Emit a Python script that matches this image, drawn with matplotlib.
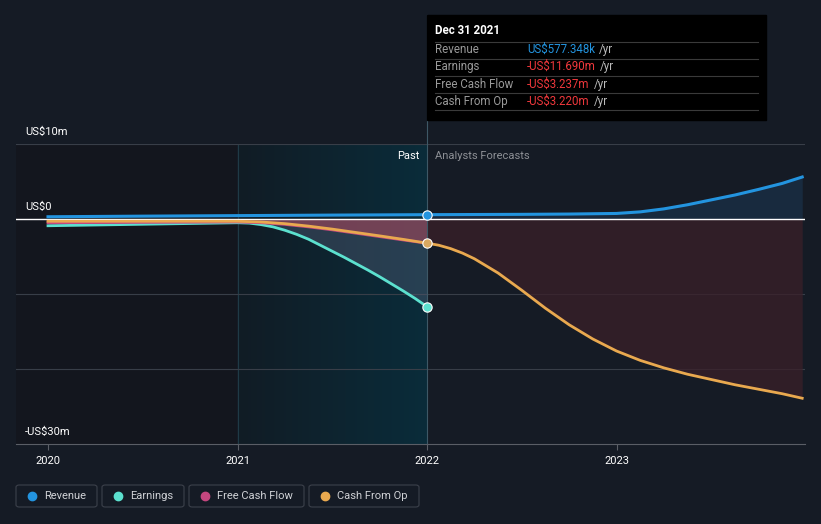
import numpy as np
import matplotlib.pyplot as plt
from matplotlib.patches import FancyBboxPatch, Rectangle
from matplotlib.colors import LinearSegmentedColormap

plt.rcParams['font.family'] = ['Roboto', 'DejaVu Sans']

# values in US$ millions, x in fractional years
rev_past_x = [2020.0, 2020.5, 2021.0, 2021.5, 2022.0]
rev_past_y = [0.30, 0.38, 0.45, 0.52, 0.577]
earn_past_x = [2020.0, 2020.25, 2020.5, 2020.75, 2021.0, 2021.0625, 2021.125, 2021.1875, 2021.25,
               2021.3125, 2021.375, 2021.4375, 2021.5, 2021.5625, 2021.625, 2021.6875, 2021.75,
               2021.8125, 2021.875, 2021.9375, 2022.0]
earn_past_y = [-0.9, -0.8, -0.7, -0.6, -0.5, -0.55, -0.75, -1.05, -1.5, -2.05, -2.7, -3.5, -4.3,
               -5.1, -5.95, -6.8, -7.7, -8.65, -9.6, -10.6, -11.69]
fcf_past_x = [2020.0, 2020.5, 2021.0, 2021.125, 2021.25, 2021.375, 2021.5, 2021.625, 2021.75,
              2021.875, 2022.0]
fcf_past_y = [-0.5, -0.45, -0.4, -0.5, -0.72, -1.05, -1.45, -1.9, -2.35, -2.8, -3.237]
cfo_past_x = [2020.0, 2020.5, 2021.0, 2021.125, 2021.25, 2021.375, 2021.5, 2021.625, 2021.75,
              2021.875, 2022.0]
cfo_past_y = [-0.3, -0.3, -0.3, -0.4, -0.62, -0.95, -1.35, -1.8, -2.25, -2.72, -3.22]

rev_fc_x = [2022.0, 2022.5, 2022.75, 2023.0, 2023.125, 2023.25, 2023.375, 2023.5, 2023.625,
            2023.75, 2023.875, 2023.98]
rev_fc_y = [0.577, 0.62, 0.66, 0.74, 0.95, 1.35, 1.9, 2.55, 3.2, 3.95, 4.75, 5.6]
cfo_fc_x = [2022.0, 2022.0625, 2022.125, 2022.1875, 2022.25, 2022.375, 2022.5, 2022.625, 2022.75,
            2022.875, 2023.0, 2023.125, 2023.25, 2023.375, 2023.5, 2023.625, 2023.75, 2023.875,
            2023.98]
cfo_fc_y = [-3.22, -3.5, -3.95, -4.55, -5.3, -7.2, -9.5, -11.9, -14.1, -16.0, -17.6, -18.85,
            -19.85, -20.7, -21.4, -22.1, -22.7, -23.3, -23.9]

years = [2020, 2021, 2022, 2023]
legend_names = ['Revenue', 'Earnings', 'Free Cash Flow', 'Cash From Op']

c_rev = '#2394df'
c_earn = '#5ce1cf'
c_fcf = '#c4477f'
c_cfo = '#e9a94f'
bg = '#151b25'

fig = plt.figure(figsize=(8.21, 5.24), dpi=100, facecolor=bg)
W, H = 821, 524
ax = fig.add_axes([16 / W, (H - 444) / H, (805 - 16) / W, 300 / H])
ax.set_facecolor(bg)
x0, x1 = 2020 - 32 / 189.5, 2020 + 757 / 189.5
ax.set_xlim(x0, x1)
ax.set_ylim(-30, 10)

# past background regions
ax.axvspan(x0, 2021, color='#13161e', zorder=0, lw=0)
grad = LinearSegmentedColormap.from_list('g', ['#111c25', '#0a2c3a'])
ax.imshow(np.linspace(0, 1, 200).reshape(1, -1), cmap=grad, aspect='auto',
          extent=[2021, 2022, -30, 10], zorder=0.5)
ax.axvline(2021, color='#1f3a46', lw=0.8, zorder=1)

# grid lines
for v in [10, -10, -20]:
    ax.axhline(v, color='#383e48', lw=0.8, zorder=1)

# fills
ax.fill_between(cfo_fc_x, cfo_fc_y, 0, color='#3a2029', alpha=0.75, lw=0, zorder=1.5)
ax.fill_between(rev_fc_x, rev_fc_y, 0, color='#1b3550', alpha=0.6, lw=0, zorder=1.5)
ax.fill_between(earn_past_x, earn_past_y, 0, color='#55607a', alpha=0.4, lw=0, zorder=1.6)
ax.fill_between(fcf_past_x, fcf_past_y, 0, color='#a4465a', alpha=0.6, lw=0, zorder=1.7)

# lines
ax.plot(earn_past_x, earn_past_y, color=c_earn, lw=2, zorder=3)
ax.plot(fcf_past_x, fcf_past_y, color=c_fcf, lw=2, zorder=3)
ax.plot(cfo_past_x, cfo_past_y, color=c_cfo, lw=2, zorder=3.1)
ax.plot(cfo_fc_x, cfo_fc_y, color=c_cfo, lw=2, zorder=3.1)
ax.plot(rev_past_x, rev_past_y, color=c_rev, lw=2.2, zorder=3.2)
ax.plot(rev_fc_x, rev_fc_y, color=c_rev, lw=2.2, zorder=3.2)
ax.axhline(0, color='white', lw=1, zorder=2.5)

# markers at Dec 31 2021
ax.scatter([2022], [rev_past_y[-1]], s=45, color=c_rev, edgecolor='white', lw=0.8, zorder=5)
ax.scatter([2022], [earn_past_y[-1]], s=45, color=c_earn, edgecolor='white', lw=0.8, zorder=5)
ax.scatter([2022], [cfo_past_y[-1]], s=45, color='#d8a860', edgecolor='white', lw=0.8, zorder=5)

# cursor line
ax.axvline(2022, ymin=0, ymax=(444 - 15) / 300, color='#3e5866', lw=0.8, zorder=2, clip_on=False)

for s in ['left', 'right', 'top']:
    ax.spines[s].set_visible(False)
ax.spines['bottom'].set_color('#5a5e66')
ax.set_yticks([])
ax.set_xticks(years)
ax.set_xticklabels([str(y) for y in years], color='white', fontsize=8)
ax.tick_params(axis='x', colors='#5a5e66', length=4, labelcolor='white', pad=5)


def fy(p):
    return (H - p) / H


fig.text(25 / W, fy(132), 'US$10m', color='white', fontsize=8, va='center')
fig.text(25 / W, fy(207), 'US$0', color='white', fontsize=8, va='center')
fig.text(25 / W, fy(432), '-US$30m', color='white', fontsize=8, va='center')
fig.text(419 / W, fy(156), 'Past', color='white', fontsize=8, va='center', ha='right')
fig.text(435 / W, fy(156), 'Analysts Forecasts', color='#8d9096', fontsize=8, va='center')

# tooltip
fig.patches.append(Rectangle((427 / W, fy(120)), (766 - 427) / W, 105 / H,
                             transform=fig.transFigure, color='black', zorder=10))
fig.text(435 / W, fy(31), 'Dec 31 2021', color='white', fontsize=8.3, weight='bold', va='center', zorder=11)
for p in [42, 59, 76, 93, 110]:
    fig.add_artist(plt.Line2D([435 / W, 758 / W], [fy(p), fy(p)], color='#3a3a3a', lw=0.8, zorder=11))
rows = [('Revenue', 'US$577.348k', c_rev), ('Earnings', '-US$11.690m', '#f0383c'),
        ('Free Cash Flow', '-US$3.237m', '#f0383c'), ('Cash From Op', '-US$3.220m', '#f0383c')]
renderer = fig.canvas.get_renderer()
for i, (name, val, col) in enumerate(rows):
    yy = fy(49.5 + i * 17.3)
    fig.text(435 / W, yy, name, color='#9a9a9a', fontsize=8.3, va='center', zorder=11)
    t = fig.text(527 / W, yy, val, color=col, fontsize=8.3, va='center', zorder=11)
    bb = t.get_window_extent(renderer)
    fig.text((bb.x1 + 4) / W, yy, '/yr', color='#bbbbbb', fontsize=8.3, va='center', zorder=11)

# legend boxes
boxes = [(16, 97), (102, 184), (189, 304), (309, 419)]
cols = [c_rev, c_earn, c_fcf, c_cfo]
for (a, b), name, col in zip(boxes, legend_names, cols):
    fig.patches.append(FancyBboxPatch((a / W, fy(507)), (b - a) / W, 22 / H,
                                      boxstyle='round,pad=0,rounding_size=0.004',
                                      transform=fig.transFigure, fc='none', ec='#3c414b', lw=0.8))
    fig.add_artist(plt.Line2D([(a + 16) / W], [fy(496)], marker='o', ms=6, color=col, lw=0))
    fig.text((a + 28) / W, fy(496), name, color='#d0d2d6', fontsize=8, va='center')

fig.savefig('out.png', dpi=100, facecolor=bg)
